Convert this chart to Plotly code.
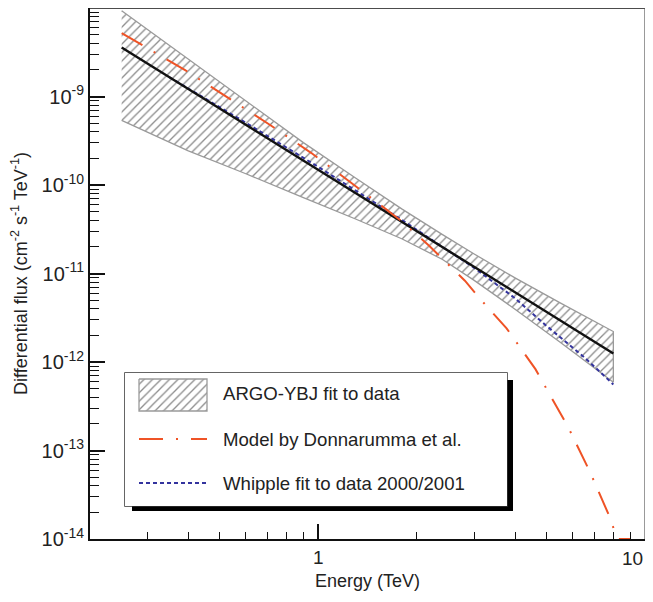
import numpy as np
import plotly.graph_objects as go

# ---------------- data ----------------
# ARGO-YBJ fit (black line) and its error band
band_E = [0.25, 0.4, 0.6, 0.9, 1.3, 1.8, 2.4, 3.0, 4.0, 5.5, 8.0]
band_upper = [9.33e-9, 2.64e-9, 9.06e-10, 3.01e-10, 1.20e-10, 5.38e-11,
              2.75e-11, 1.66e-11, 8.93e-12, 4.65e-12, 2.21e-12]
band_lower = [5.37e-10, 2.43e-10, 1.34e-10, 7.21e-11, 4.13e-11, 2.47e-11,
              1.44e-11, 8.36e-12, 3.95e-12, 1.67e-12, 5.89e-13]
argo_fit = [3.57e-9, 1.21e-9, 4.79e-10, 1.88e-10, 8.11e-11, 3.84e-11,
            1.99e-11, 1.19e-11, 6.14e-12, 2.95e-12, 1.25e-12]

# Model by Donnarumma et al. (dash-dot)
model_E = [0.25, 0.39, 0.71, 0.95, 1.26, 1.79, 2.18, 2.81, 3.16, 3.77,
           4.62, 5.82, 6.79, 7.82, 8.1, 8.25, 9.0]
model_flux = [5.2e-9, 2.0e-9, 4.8e-10, 2.31e-10, 1.06e-10, 3.96e-11, 2.07e-11,
              8.3e-12, 4.95e-12, 2.4e-12, 8.3e-13, 1.83e-13, 5.7e-14,
              1.73e-14, 1.17e-14, 1.0e-14, 1.0e-14]

# Whipple fit to data 2000/2001 (dotted)
whipple_E = [0.35, 0.6, 1.0, 1.8, 2.4, 3.0, 4.0, 5.0, 6.5, 8.0]
whipple_flux = [1.65e-9, 5.05e-10, 1.60e-10, 4.05e-11, 1.99e-11, 1.16e-11,
                5.25e-12, 2.55e-12, 1.14e-12, 5.58e-13]

# axis ticks
x_major = [1, 10]
x_major_text = ["1", "10"]
x_minor = [0.3, 0.4, 0.5, 0.6, 0.7, 0.8, 0.9, 2, 3, 4, 5, 6, 7, 8, 9]
y_exponents = [-14, -13, -12, -11, -10, -9]

legend_labels = ["ARGO-YBJ fit to data", "Model by Donnarumma et al.",
                 "Whipple fit to data 2000/2001"]

# ---------------- styles ----------------
FONT = "Liberation Sans, Arial, Helvetica, sans-serif"
RED = "#EF5326"
BLUE = "#33339E"
BAND_EDGE = "#9a9a9a"
HATCH = dict(shape="/", size=6, solidity=0.22, fgcolor="#8c8c8c",
             bgcolor="white", fillmode="replace")
RED_DASH = "24px,13px,2px,13px"
BLUE_DASH = "4px,3px"

# page body adds an 8px offset; layout positions below are given in window pixels
OFF = 8
W, H = 653, 602
PX_L, PX_R, PX_T, PX_B = 90, 645, 8, 539     # plot area in window pixels
L, R, T, B = PX_L - OFF, W - (PX_R - OFF), PX_T - OFF, H - (PX_B - OFF)
pw, ph = PX_R - PX_L, PX_B - PX_T


def px_x(px):
    return (px - PX_L) / pw


def px_y(py):
    return (PX_B - py) / ph


fig = go.Figure()

# band (hatched)
fig.add_trace(go.Scatter(
    x=band_E + band_E[::-1], y=band_upper + band_lower[::-1],
    mode="lines", fill="toself", fillcolor="white", fillpattern=HATCH,
    line=dict(color=BAND_EDGE, width=1.3), hoverinfo="skip"))

# Whipple
fig.add_trace(go.Scatter(x=whipple_E, y=whipple_flux, mode="lines",
                         line=dict(color=BLUE, width=2, dash=BLUE_DASH)))
# ARGO fit
fig.add_trace(go.Scatter(x=band_E, y=argo_fit, mode="lines",
                         line=dict(color="#111111", width=2.4)))
# Model
fig.add_trace(go.Scatter(x=model_E, y=model_flux, mode="lines",
                         line=dict(color=RED, width=2, dash=RED_DASH)))

# ---------------- custom legend (own small subplot) ----------------
bx0, bx1, by0, by1 = 125, 507, 373, 506
fig.add_trace(go.Scatter(
    x=[139, 207, 207, 139, 139], y=[379, 379, 411, 411, 379],
    xaxis="x2", yaxis="y2", mode="lines", fill="toself", fillcolor="white",
    fillpattern=HATCH, line=dict(color=BAND_EDGE, width=1.3)))
fig.add_trace(go.Scatter(x=[139, 207], y=[439, 439], xaxis="x2", yaxis="y2",
                         mode="lines", line=dict(color=RED, width=2, dash=RED_DASH)))
fig.add_trace(go.Scatter(x=[139, 207], y=[483, 483], xaxis="x2", yaxis="y2",
                         mode="lines", line=dict(color=BLUE, width=2, dash=BLUE_DASH)))

shapes = [
    # shadow
    dict(type="rect", xref="paper", yref="paper", layer="below",
         x0=px_x(bx0 + 7), x1=px_x(bx1 + 6), y0=px_y(by0 + 7), y1=px_y(by1 + 5),
         fillcolor="black", line=dict(width=0)),
    # box
    dict(type="rect", xref="paper", yref="paper", layer="below",
         x0=px_x(bx0), x1=px_x(bx1), y0=px_y(by1), y1=px_y(by0),
         fillcolor="white", line=dict(color="#333333", width=1.5)),
    # top & right frame
    dict(type="line", xref="paper", yref="paper", x0=0, x1=1, y0=1, y1=1,
         line=dict(color="#111111", width=1.6)),
    dict(type="line", xref="paper", yref="paper", x0=1, x1=1, y0=0, y1=1,
         line=dict(color="#555555", width=1.2)),
]

annotations = []
for lab, py in zip(legend_labels, [393, 439, 483]):
    annotations.append(dict(text=lab, xref="paper", yref="paper",
                            x=px_x(221), y=px_y(py), xanchor="left", yanchor="middle",
                            showarrow=False, font=dict(size=18.6, color="#222222", family=FONT)))

# tick label at the right edge, nudged left so that it stays inside the page
annotations.append(dict(text=x_major_text[1], xref="x", yref="paper",
                        x=np.log10(x_major[1]), y=px_y(558), xanchor="right",
                        yanchor="middle", xshift=0, showarrow=False,
                        font=dict(size=19, color="#222222", family=FONT)))

y_minor = [m * 10.0 ** e for e in y_exponents for m in range(2, 10)]

fig.update_layout(
    width=W, height=H, margin=dict(l=L, r=R, t=T, b=B, autoexpand=False),
    paper_bgcolor="white", plot_bgcolor="white", showlegend=False,
    font=dict(family=FONT, size=18, color="#222222"),
    shapes=shapes, annotations=annotations,
    xaxis=dict(type="log", range=[np.log10(0.2), 1.0], showgrid=False, zeroline=False,
               automargin=False,
               showline=True, linecolor="#111111", linewidth=2,
               tickmode="array", tickvals=x_major, ticktext=[x_major_text[0], ""],
               ticks="inside", ticklen=15, tickwidth=1.5, tickcolor="#111111",
               tickfont=dict(size=19),
               minor=dict(tickmode="array", tickvals=x_minor, ticks="inside",
                          ticklen=7, tickwidth=1.3, tickcolor="#111111", showgrid=False),
               title=dict(text="Energy (TeV)", font=dict(size=18), standoff=8)),
    yaxis=dict(type="log", range=[-14, -8], showgrid=False, zeroline=False,
               automargin=False,
               showline=True, linecolor="#111111", linewidth=2,
               tickmode="array", tickvals=[10.0 ** e for e in y_exponents],
               ticktext=["10<sup>%d</sup>" % e for e in y_exponents],
               ticks="inside", ticklen=15, tickwidth=1.5, tickcolor="#111111",
               tickfont=dict(size=20),
               minor=dict(tickmode="array", tickvals=y_minor, ticks="inside",
                          ticklen=9, tickwidth=1.3, tickcolor="#111111", showgrid=False),
               title=dict(text="Differential flux (cm<sup>-2</sup> s<sup>-1</sup> TeV<sup>-1</sup>)",
                          font=dict(size=18), standoff=14)),
    xaxis2=dict(domain=[px_x(bx0), px_x(bx1)], anchor="y2", range=[bx0, bx1],
                visible=False, fixedrange=True),
    yaxis2=dict(domain=[px_y(by1), px_y(by0)], anchor="x2", range=[by1, by0],
                visible=False, fixedrange=True),
)

fig.write_html("out.html")
